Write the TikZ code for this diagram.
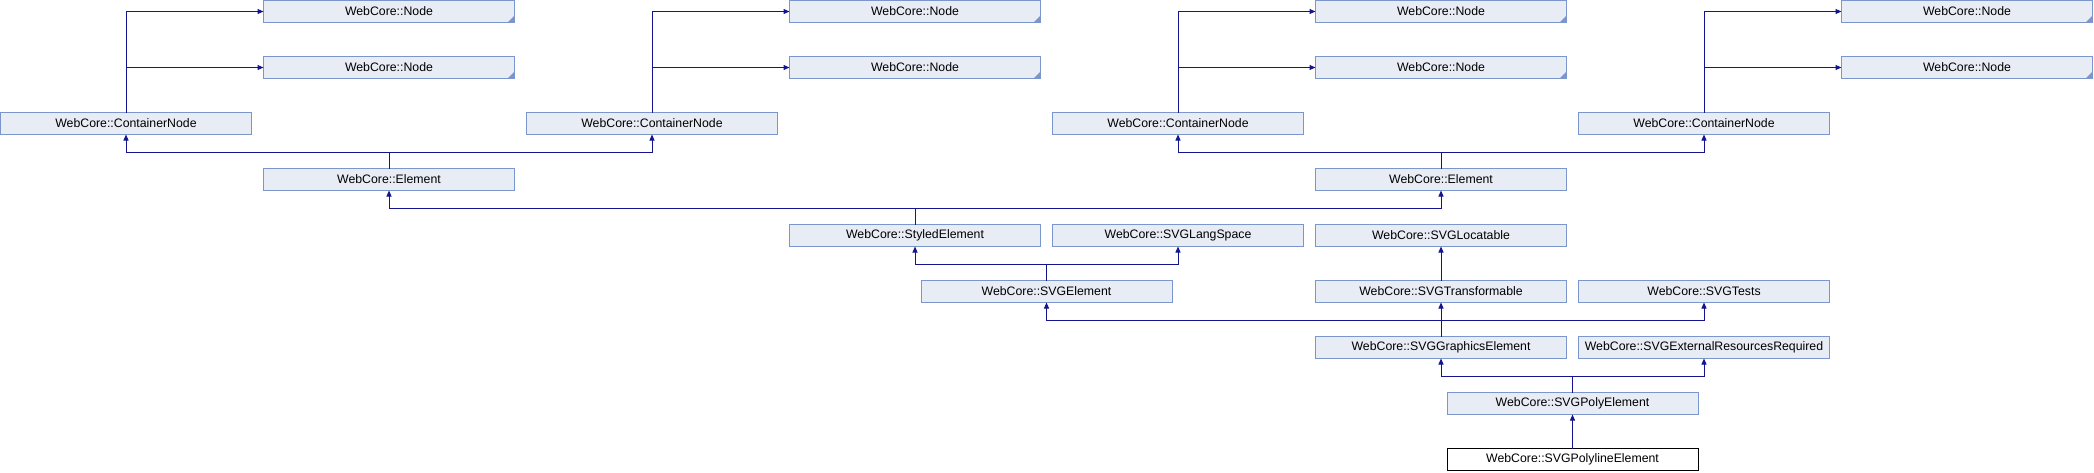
\documentclass[tikz,border=0pt]{standalone}
\usepackage{fontspec}
\setmainfont{Liberation Sans}
\usepackage{tikz}
\usetikzlibrary{arrows.meta,positioning}
\definecolor{dxfill}{RGB}{232,236,245}
\definecolor{dxborder}{RGB}{122,150,204}
\definecolor{dxedge}{RGB}{20,20,140}
\tikzset{
  cls/.style={draw=dxborder, fill=dxfill, line width=1pt, minimum width=251pt,
    minimum height=22pt, inner sep=0pt, outer sep=0pt, font=\fontsize{12.3}{14}\selectfont},
  trunc/.style={cls, path picture={\fill[dxborder] ([xshift=-0.5pt,yshift=0.5pt]path picture bounding box.south east)
    -- ++(-6pt,0pt) -- ++(6pt,6pt) -- cycle;}},
  cur/.style={cls, draw=black, fill=white},
  inh/.style={->, draw=dxedge, line width=1pt}
}

\begin{document}
\begin{tikzpicture}[x=1pt,y=-1pt,>={Triangle[length=6pt,width=5pt]},node distance=56pt]
        \useasboundingbox (0,0) rectangle (2094,472);
        % top of the graph
        \node[trunc] (NA1) at (389,11.5)  {WebCore::Node};
        \node[trunc] (NA2) [below of=NA1] {WebCore::Node};
        \node[trunc] (NB1) at (915,11.5)  {WebCore::Node};
        \node[trunc] (NB2) [below of=NB1] {WebCore::Node};
        \node[trunc] (NC1) at (1441,11.5) {WebCore::Node};
        \node[trunc] (NC2) [below of=NC1] {WebCore::Node};
        \node[trunc] (ND1) at (1967,11.5) {WebCore::Node};
        \node[trunc] (ND2) [below of=ND1] {WebCore::Node};
        \node[cls] (CNA) at (126,123.5)  {WebCore::ContainerNode};
        \node[cls] (CNB) at (652,123.5)  {WebCore::ContainerNode};
        \node[cls] (CNC) at (1178,123.5) {WebCore::ContainerNode};
        \node[cls] (CND) at (1704,123.5) {WebCore::ContainerNode};
        \node[cls] (EA) at (389,179.5)  {WebCore::Element};
        \node[cls] (EB) at (1441,179.5) {WebCore::Element};
        % middle rows
        \node[cls] (SE)  at (915,235.5)  {WebCore::StyledElement};
        \node[cls] (LS)  at (1178,235.5) {WebCore::SVGLangSpace};
        \node[cls] (LOC) at (1441,235.5) {WebCore::SVGLocatable};
        \node[cls] (SVGE) at (1046.5,291.5) {WebCore::SVGElement};
        \node[cls] (TR)  [below of=LOC]  {WebCore::SVGTransformable};
        \node[cls] (TS)  at (1704,291.5) {WebCore::SVGTests};
        \node[cls] (GE)  [below of=TR]   {WebCore::SVGGraphicsElement};
        \node[cls] (ER)  at (1704,347.5) {WebCore::SVGExternalResourcesRequired};
        \node[cls] (PE)  at (1572.5,403.5) {WebCore::SVGPolyElement};
        \node[cur] (PL)  [below of=PE]   {WebCore::SVGPolylineElement};

        \draw[inh] (CNA.north) |- (NA1.west);
        \draw[inh] (CNA.north) |- (NA2.west);
        \draw[inh] (CNB.north) |- (NB1.west);
        \draw[inh] (CNB.north) |- (NB2.west);
        \draw[inh] (CNC.north) |- (NC1.west);
        \draw[inh] (CNC.north) |- (NC2.west);
        \draw[inh] (CND.north) |- (ND1.west);
        \draw[inh] (CND.north) |- (ND2.west);
        \draw[inh] (EA.north) -- ++(0,-16.5) -| (CNA.south);
        \draw[inh] (EA.north) -- ++(0,-16.5) -| (CNB.south);
        \draw[inh] (EB.north) -- ++(0,-16.5) -| (CNC.south);
        \draw[inh] (EB.north) -- ++(0,-16.5) -| (CND.south);
        \draw[inh] (SE.north) -- ++(0,-16.5) -| (EA.south);
        \draw[inh] (SE.north) -- ++(0,-16.5) -| (EB.south);
        \draw[inh] (SVGE.north) -- ++(0,-16.5) -| (SE.south);
        \draw[inh] (SVGE.north) -- ++(0,-16.5) -| (LS.south);
        \draw[inh] (TR) -- (LOC);
        \draw[inh] (GE.north) -- ++(0,-16.5) -| (SVGE.south);
        \draw[inh] (GE) -- (TR);
        \draw[inh] (GE.north) -- ++(0,-16.5) -| (TS.south);
        \draw[inh] (PE.north) -- ++(0,-16.5) -| (GE.south);
        \draw[inh] (PE.north) -- ++(0,-16.5) -| (ER.south);
        \draw[inh] (PL) -- (PE);
\end{tikzpicture}
\end{document}
